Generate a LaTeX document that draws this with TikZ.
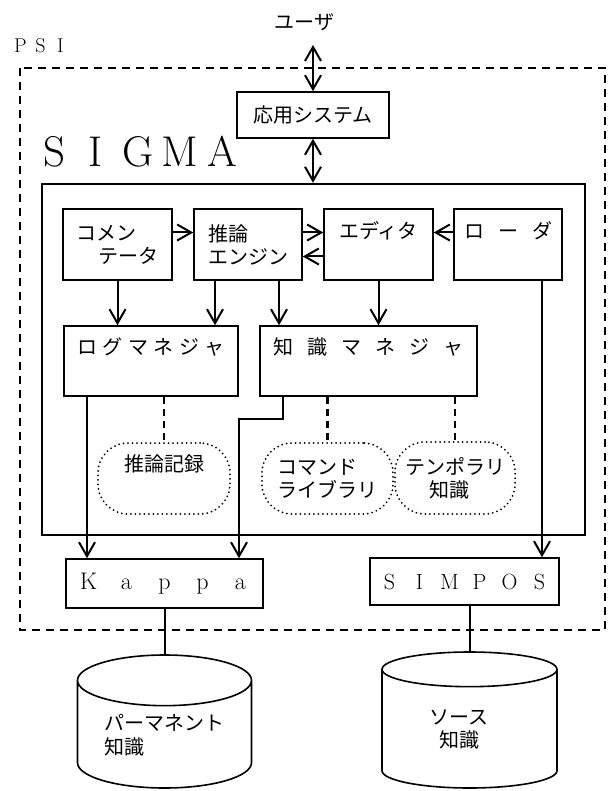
\documentclass[tikz,border=0pt]{standalone}
\usepackage{fontspec}
\usetikzlibrary{arrows.meta,shapes.geometric}
\newfontfamily\jp{Noto Sans CJK JP}
\newcommand{\sg}{\hspace{5.5pt}}
\newcommand{\wg}{\hspace{14pt}}
\newcommand{\ltr}[2]{\makebox[#1pt]{#2}}

\begin{document}
\begin{tikzpicture}[x=1pt,y=-1pt]
        \tikzstyle{jfont}=[font=\jp\fontsize{20}{23}\selectfont]
        \tikzstyle{box}=[draw, line width=1.6pt, align=left, jfont]
        \tikzstyle{lbox}=[draw, line width=1.6pt, inner xsep=2pt]
        \tikzstyle{memo}=[draw, rounded corners=30pt, line width=2pt, line cap=round, dash pattern=on 0pt off 4.5pt, align=left, jfont]
        \tikzstyle{db}=[draw, cylinder, shape border rotate=90, aspect=0.4, line width=1.6pt, anchor=shape center, jfont]
        \tikzstyle{psiframe}=[line width=1.4pt, dash pattern=on 8pt off 6pt]
        \tikzstyle{flow}=[line width=2pt, -{Straight Barb[length=14pt,width=16pt]}]
        \tikzstyle{twoway}=[line width=2pt, {Straight Barb[length=14pt,width=16pt]}-{Straight Barb[length=14pt,width=16pt]}]
        \tikzstyle{tie}=[line width=2.6pt, dash pattern=on 7pt off 5pt]
        \tikzstyle{wire}=[line width=2pt]

        \useasboundingbox (0,0) rectangle (610,791);
        \draw[psiframe] (20,68) rectangle (605,630);

        % user and application
        \node[jfont] (user) at (304.5,22) {ユーザ};
        \node[font=\fontsize{20}{24}\selectfont, inner sep=0] (psi) at (40.5,46) {\ltr{20}{P}\ltr{20}{S}\ltr{20}{I}};
        \node[box, minimum width=152, minimum height=46] (app) at (313,115) {応用システム};
        \coordinate (usertip) at (313,45);

        % SIGMA
        \node[font=\fontsize{43}{48}\selectfont, inner sep=0] (sigmatitle) at (138,152) {\ltr{42}{S}\ltr{42}{I}\ltr{42}{G}\ltr{42}{M}\ltr{42}{A}};
        \node[draw, line width=2.4pt, minimum width=543, minimum height=351] (sigma) at (313.5,359.5) {};

        \node[box, minimum width=109, minimum height=71] (comm) at (117.5,244.5) {コメン\\\hspace*{22pt}テータ};
        \node[box, minimum width=108, minimum height=71] (engine) at (248,244.5) {推論\\エンジン};
        \node[box, minimum width=109, minimum height=71] (editor) at (378.5,244.5) {エディタ\\\strut};
        \node[box, minimum width=108, minimum height=71] (loader) at (508,244.5) {ロ\wg ー\wg ダ\\\strut};

        \node[box, minimum width=174, minimum height=70] (logmgr) at (151,361) {ロ\sg グ\sg マ\sg ネ\sg ジ\sg ャ\\\strut};
        \node[box, minimum width=217, minimum height=70] (kmgr) at (368.5,361) {知\wg 識\wg マ\wg ネ\wg ジ\wg ャ\\\strut};

        \node[memo, minimum width=132, minimum height=71] (rec) at (164,478.5) {推論記録\\\strut};
        \node[memo, minimum width=131, minimum height=71] (cmdlib) at (327.5,478.5) {コマンド\\ライブラリ};
        \node[memo, minimum width=120, minimum height=72] (tmpk) at (455,478) {テンポラリ\\\hspace*{24pt}知識};

        % Kappa, SIMPOS and the stores
        \node[lbox, font=\fontsize{24}{26}\selectfont, minimum width=197, minimum height=49] (kappa) at (164.5,583.5) {\ltr{38}{K}\ltr{38}{a}\ltr{38}{p}\ltr{38}{p}\ltr{38}{a}};
        \node[lbox, font=\fontsize{22}{24}\selectfont, minimum width=189, minimum height=47] (simpos) at (464.5,581.5) {\ltr{30}{S}\ltr{30}{I}\ltr{30}{M}\ltr{30}{P}\ltr{30}{O}\ltr{30}{S}};
        \node[db, minimum width=174, minimum height=133] (perm) at (164.5,721.5) {\begin{tabular}{@{}l@{}}パーマネント\\知識\end{tabular}};
        \node[db, minimum width=175, minimum height=136] (src) at (469.5,720) {\begin{tabular}{@{}l@{\hspace{21pt}}}ソース\\\hspace*{10pt}知識\end{tabular}};

        \draw[twoway] (usertip) -- (app.north);
        \draw[twoway] (app.south) -- (app.south |- sigma.north);

        \draw[flow] ([yshift=12pt]comm.east) -- ([yshift=12pt]engine.west);
        \draw[flow] ([yshift=12pt]engine.east) -- ([yshift=12pt]editor.west);
        \draw[flow] ([yshift=-12pt]editor.west) -- ([yshift=-12pt]engine.east);
        \draw[flow] ([yshift=12pt]loader.west) -- ([yshift=12pt]editor.east);

        \draw[flow] (comm.south) -- (comm.south |- logmgr.north);
        \draw[flow] ([xshift=-33pt]engine.south) -- ([xshift=-33pt]engine.south |- logmgr.north);
        \draw[flow] ([xshift=31pt]engine.south) -- ([xshift=31pt]engine.south |- kmgr.north);
        \draw[flow] (editor.south) -- (editor.south |- kmgr.north);

        \draw[tie] (logmgr.south -| rec.north) -- (rec.north);
        \draw[tie] (kmgr.south -| cmdlib.north) -- (cmdlib.north);
        \draw[tie] (kmgr.south -| tmpk.north) -- (tmpk.north);

        \coordinate (jog) at (239,419);
        \draw[flow] ([xshift=-64pt]logmgr.south) -- ([xshift=-64pt]logmgr.south |- kappa.north);
        \draw[flow] ([xshift=-86pt]kmgr.south) |- (jog) -- (jog |- kappa.north);
        \draw[flow] ([xshift=34pt]loader.south) -- ([xshift=34pt]loader.south |- simpos.north);

        \draw[wire] (kappa.south) -- (perm.north);
        \draw[wire] (simpos.south -| src.north) -- (src.north);
\end{tikzpicture}
\end{document}
